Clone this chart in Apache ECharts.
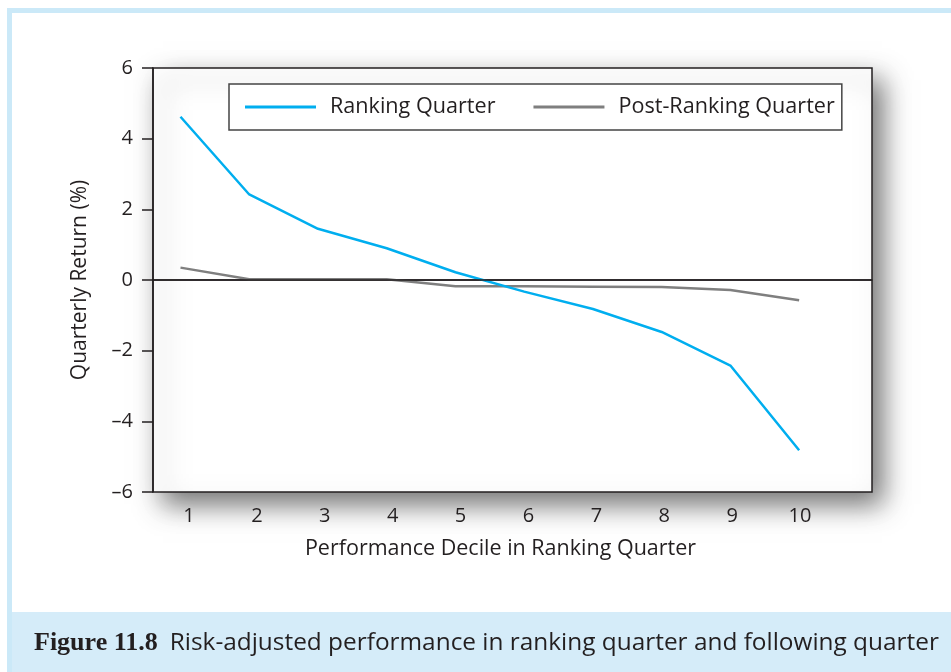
<!DOCTYPE html>
<html>
<head>
<meta charset="utf-8">
<script src="https://cdn.jsdelivr.net/npm/echarts@6/dist/echarts.min.js"></script>
<style>
html,body{margin:0;padding:0;background:#fff;}
#c{width:951px;height:672px;}
</style>
</head>
<body>
<div id="c"></div>
<script>
const deciles = [1, 2, 3, 4, 5, 6, 7, 8, 9, 10];
const rankingQuarter = [4.62, 2.42, 1.45, 0.9, 0.22, -0.33, -0.82, -1.47, -2.42, -4.82];
const postRankingQuarter = [0.35, 0.02, 0.02, 0.02, -0.18, -0.18, -0.19, -0.2, -0.28, -0.57];
const yTicks = [-6, -4, -2, 0, 2, 4, 6];
const seriesNames = ['Ranking Quarter', 'Post-Ranking Quarter'];
const xTitle = 'Performance Decile in Ranking Quarter';
const yTitle = 'Quarterly Return (%)';
const captionBold = 'Figure 11.8';
const captionText = 'Risk-adjusted performance in ranking quarter and following quarter';

const FONT = '"Open Sans", "Noto Sans", sans-serif';
const chart = echarts.init(document.getElementById('c'), null, {renderer: 'canvas'});

const pair = (vals) => deciles.map((d, i) => [d, vals[i]]);

chart.setOption({
  animation: false,
  backgroundColor: '#ffffff',
  graphic: {
    elements: [
      {type: 'rect', z: -100, shape: {x: 7, y: 8, width: 960, height: 680}, style: {fill: '#cbe9f8'}},
      {type: 'rect', z: -99, shape: {x: 12, y: 13, width: 950, height: 599}, style: {fill: '#ffffff'}},
      {type: 'rect', z: -99, shape: {x: 12, y: 612, width: 950, height: 70}, style: {fill: '#d5ecf9'}}
    ]
  },
  title: {
    left: 29, top: 625,
    text: '{b|' + captionBold + '} {n|' + captionText + '}',
    textStyle: {
      fontWeight: 'normal',
      rich: {
        b: {fontFamily: '"Liberation Serif", serif', fontWeight: 'bold', fontSize: 26, color: '#231f20'},
        n: {fontFamily: FONT, fontWeight: 'normal', fontSize: 24.4, color: '#231f20', padding: [0, 0, 0, 7]}
      }
    }
  },
  legend: {
    left: 229, top: 84,
    padding: [12, 7, 12, 16],
    borderColor: '#444',
    borderWidth: 1.5,
    backgroundColor: '#fff',
    itemWidth: 71, itemHeight: 3,
    itemGap: 38,
    icon: 'rect',
    textStyle: {fontFamily: FONT, fontSize: 21.6, color: '#231f20', padding: [0, 0, 0, 9]},
    data: seriesNames
  },
  grid: {
    left: 153, top: 68, right: 79, bottom: 180,
    show: true,
    backgroundColor: '#fff',
    borderColor: '#231f20',
    borderWidth: 1.5,
    shadowBlur: 26,
    shadowColor: 'rgba(0,0,0,0.55)',
    shadowOffsetX: 10,
    shadowOffsetY: 12
  },
  xAxis: [
    {
      type: 'value', min: 0.6, max: 11.06,
      axisLine: {show: true, lineStyle: {color: '#231f20', width: 1.5}},
      axisTick: {show: false}, axisLabel: {show: false}, splitLine: {show: false},
      name: xTitle, nameLocation: 'middle', nameGap: 46,
      nameTextStyle: {fontFamily: FONT, fontSize: 21.5, color: '#231f20', padding: [0, 24, 0, 0]}
    },
    {
      type: 'value', min: 0.47, max: 11.06, position: 'bottom',
      axisLine: {show: false}, axisTick: {show: false}, splitLine: {show: false},
      axisLabel: {show: true, customValues: deciles, margin: 14, fontFamily: FONT, fontSize: 20, color: '#231f20'}
    }
  ],
  yAxis: {
    type: 'value', min: -6, max: 6, interval: 2,
    axisLine: {show: true, lineStyle: {color: '#231f20', width: 1.5}},
    axisTick: {show: true, length: 11, inside: false, lineStyle: {color: '#231f20', width: 1.5}, customValues: yTicks},
    axisLabel: {margin: 20, fontFamily: FONT, fontSize: 20, color: '#231f20', customValues: yTicks,
      formatter: v => (v < 0 ? '\u2013' + Math.abs(v) : String(v))},
    splitLine: {show: false},
    name: yTitle, nameLocation: 'middle', nameGap: 62, nameRotate: 90,
    nameTextStyle: {fontFamily: FONT, fontSize: 21, color: '#231f20'}
  },
  series: [
    {
      name: seriesNames[0], type: 'line', xAxisIndex: 0, data: pair(rankingQuarter),
      symbol: 'none', color: '#00aeef', lineStyle: {width: 2.5, color: '#00aeef'}, z: 3,
      markLine: {
        silent: true, symbol: 'none', label: {show: false},
        lineStyle: {color: '#231f20', width: 1.5, type: 'solid'},
        data: [{yAxis: 0}]
      }
    },
    {
      name: seriesNames[1], type: 'line', xAxisIndex: 0, data: pair(postRankingQuarter),
      symbol: 'none', color: '#7f7f7f', lineStyle: {width: 2.5, color: '#7f7f7f'}, z: 2
    }
  ]
});
</script>
</body>
</html>
